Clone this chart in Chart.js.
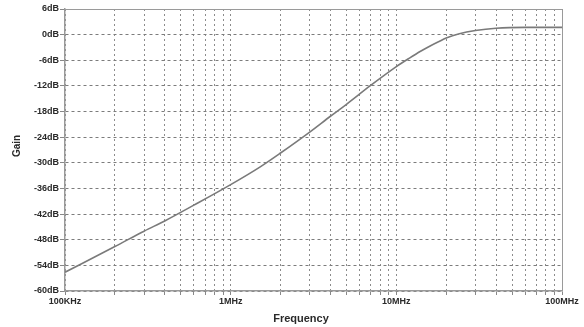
<!DOCTYPE html>
<html>
<head>
<meta charset="utf-8">
<script src="https://cdn.jsdelivr.net/npm/chart.js@4/dist/chart.umd.min.js"></script>
<style>
html,body{margin:0;padding:0;background:#fff;}
#wrap{width:584px;height:327px;}
</style>
</head>
<body>
<div id="wrap"><canvas id="c" width="584" height="327"></canvas></div>
<script>
// Frequency (Hz) and gain (dB)
const frequencies = [1e5, 2e5, 3e5, 4e5, 6e5, 1e6, 1.5e6, 2e6, 3e6, 4e6, 5e6, 7e6, 1e7, 1.2e7, 1.4e7, 1.6e7, 1.8e7, 2e7, 2.4e7, 3e7, 4e7, 6e7, 1e8];
const gains       = [-55.6, -49.6, -46.0, -43.6, -39.9, -35.1, -31.0, -27.7, -22.8, -19.1, -16.3, -11.9, -7.5, -5.5, -3.9, -2.65, -1.65, -0.8, 0.2, 0.95, 1.5, 1.7, 1.7];

// Axis ticks
const xTickValues = [1e5,2e5,3e5,4e5,5e5,6e5,7e5,8e5,9e5,1e6,2e6,3e6,4e6,5e6,6e6,7e6,8e6,9e6,1e7,2e7,3e7,4e7,5e7,6e7,7e7,8e7,9e7,1e8];
const xMajorValues = [1e5, 1e6, 1e7, 1e8];
const xMajorLabels = ['100KHz', '1MHz', '10MHz', '100MHz'];
const yMin = -60, yMax = 6, yStep = 6;
const xTitle = 'Frequency';
const yTitle = 'Gain';

const labelFont = {family: '"Liberation Sans", Arial, sans-serif', size: 9, weight: 'bold'};
const textColor = '#2a2a2a';

const framePlugin = {
  id: 'frame',
  afterDraw(chart) {
    const {ctx, chartArea: a} = chart;
    ctx.save();
    ctx.strokeStyle = '#9a9a9a';
    ctx.lineWidth = 1;
    ctx.beginPath();
    ctx.moveTo(a.left, a.top + 0.5);
    ctx.lineTo(a.right + 0.5, a.top + 0.5);
    ctx.lineTo(a.right + 0.5, a.bottom);
    ctx.stroke();
    // axis titles
    ctx.fillStyle = textColor;
    ctx.textAlign = 'center';
    ctx.textBaseline = 'middle';
    ctx.font = 'bold 11px "Liberation Sans", Arial, sans-serif';
    ctx.fillText(xTitle, 301, 319);
    ctx.translate(17, 146);
    ctx.rotate(-Math.PI / 2);
    ctx.font = 'bold 10px "Liberation Sans", Arial, sans-serif';
    ctx.fillText(yTitle, 0, 0);
    ctx.restore();
  }
};

new Chart(document.getElementById('c'), {
  type: 'line',
  data: {
    datasets: [{
      data: frequencies.map((f, i) => ({x: f, y: gains[i]})),
      borderColor: '#7a7a7a',
      borderWidth: 1.6,
      pointRadius: 0,
      cubicInterpolationMode: 'monotone',
      fill: false
    }]
  },
  options: {
    responsive: false,
    animation: false,
    devicePixelRatio: 1,
    layout: {padding: {top: 9, right: 22, bottom: 0, left: 0}},
    plugins: {legend: {display: false}, tooltip: {enabled: false}},
    scales: {
      x: {
        type: 'logarithmic',
        min: 1e5, max: 1e8,
        afterFit(s) { s.height = 36; },
        afterBuildTicks(s) { s.ticks = xTickValues.map(v => ({value: v})); },
        grid: {color: '#8c8c8c', lineWidth: 1, tickLength: 4, tickColor: '#888', tickBorderDash: []},
        border: {display: true, color: '#999', width: 1.5, dash: [2, 3]},
        ticks: {
          autoSkip: false, maxRotation: 0, minRotation: 0, padding: 1,
          color: textColor, font: labelFont,
          callback(v) { const i = xMajorValues.indexOf(v); return i >= 0 ? xMajorLabels[i] : ''; }
        }
      },
      y: {
        type: 'linear',
        min: yMin, max: yMax,
        afterFit(s) { s.width = 65; },
        grid: {color: '#7c7c7c', lineWidth: 1, tickLength: 5, tickColor: '#888', tickBorderDash: []},
        border: {display: true, color: '#999', width: 1.5, dash: [3, 3]},
        ticks: {
          stepSize: yStep, padding: 1, color: textColor, font: labelFont,
          callback(v) { return v + 'dB'; }
        }
      }
    }
  },
  plugins: [framePlugin]
});
</script>
</body>
</html>
